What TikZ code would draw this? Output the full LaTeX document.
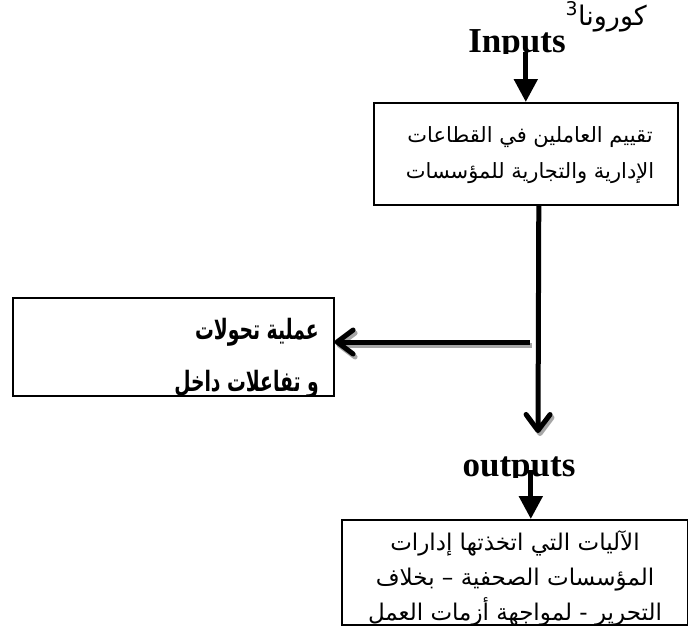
\documentclass[tikz,border=0pt]{standalone}
\usepackage{fontspec}
\setmainfont{Liberation Serif}
\newfontfamily\arabicfont[Script=Arabic]{DejaVu Sans}
\TeXXeTstate=1
\usetikzlibrary{arrows.meta}
\newcommand{\artxt}[1]{{\arabicfont\beginR #1\endR}}
\begin{document}
\begin{tikzpicture}[x=1pt,y=-1pt,
  box/.style={draw=black, line width=1.6pt, inner sep=0pt, anchor=north west},
  io/.style={font=\fontsize{35}{35}\selectfont\bfseries, inner sep=0pt, anchor=base},
  artext/.style={inner sep=0pt, anchor=base, font=\fontsize{21}{21}\selectfont},
  artextb/.style={inner sep=0pt, anchor=base, font=\fontsize{23}{23}\selectfont},
  boldar/.style={inner sep=0pt, anchor=base east, font=\fontsize{28}{28}\selectfont\bfseries},
  fatarrow/.style={line width=5pt, -{Triangle[width=23pt,length=23pt]}},
  barb/.style={line width=5pt, -{Straight Barb[length=16pt,width=24pt,round]}},
  barbshadow/.style={barb, draw=black!35, transform canvas={xshift=2pt,yshift=-3pt}}
]
\useasboundingbox (0,0) rectangle (688,632);

% top label
\node[inner sep=0pt, anchor=base east, font=\fontsize{27}{27}\selectfont] (korona) at (647,25)
  {\artxt{كورونا\textsuperscript{3}}};

% Inputs (clipped at its baseline)
\begin{scope}
  \clip (440,0) rectangle (600,53);
  \node[io] (inputs) at (517,52) {Inputs};
\end{scope}

% box 1
\node[box, minimum width=304pt, minimum height=102pt] (box1) at (373,102) {};
\node[artext] (box1a) at (530,142) {\artxt{تقييم العاملين في القطاعات}};
\node[artext] (box1b) at (530,178) {\artxt{الإدارية والتجارية للمؤسسات}};

% box 2
\node[box, minimum width=321pt, minimum height=98pt] (box2) at (12,297) {};
\begin{scope}
  \clip (box2.south west) rectangle (box2.north east);
  \node[boldar] (box2a) at (319,339) {\scalebox{0.67}[1]{\artxt{عملية تحولات}}};
  \node[boldar] (box2b) at (319,391) {\scalebox{0.67}[1]{\artxt{و تفاعلات داخل}}};
\end{scope}

% box 3
\node[box, minimum width=346pt, minimum height=105pt] (box3) at (341,519) {};
\begin{scope}
  \clip (box3.south west) rectangle (box3.north east);
  \node[artextb] (box3a) at (515,550) {\artxt{الآليات التي اتخذتها إدارات}};
  \node[artextb] (box3b) at (515,585) {\artxt{المؤسسات الصحفية – بخلاف}};
  \node[artextb] (box3c) at (515,620) {\artxt{التحرير - لمواجهة أزمات العمل}};
\end{scope}

% outputs (clipped)
\begin{scope}
  \clip (440,440) rectangle (600,477);
  \node[io] (outputs) at (519,476) {outputs};
\end{scope}

% connectors
\draw[fatarrow] (box1.north |- inputs.base) -- (box1.north);

\coordinate (vtop) at ([xshift=13pt]box1.south);
\coordinate (vend) at (538,433);
\coordinate (hstart) at (530,342);

\draw[barbshadow] ([yshift=14pt]vend) -- (vend);
\draw[barb] (vtop) -- (vend);

\draw[barbshadow] (hstart) -- (box2.east |- hstart);
\draw[barb] (hstart) -- (box2.east |- hstart);

\draw[fatarrow] ([xshift=16pt,yshift=6pt]box3.north |- outputs.base) -- ([xshift=16pt]box3.north);
\end{tikzpicture}
\end{document}
